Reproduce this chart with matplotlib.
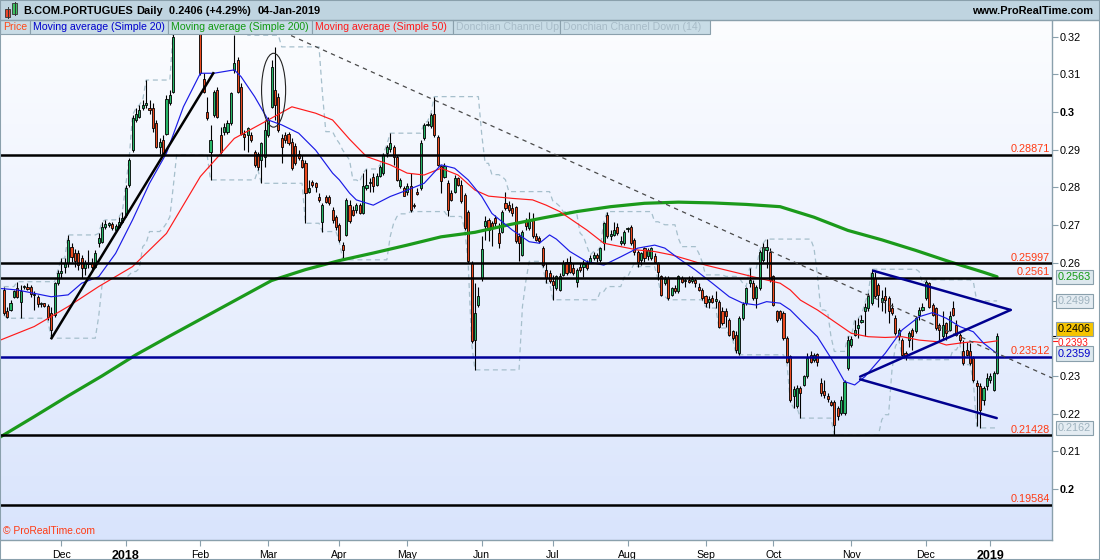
import numpy as np
import pandas as pd
import matplotlib
matplotlib.use("Agg")
import matplotlib.pyplot as plt
from matplotlib.patches import Rectangle, Ellipse
from matplotlib import transforms

plt.rcParams['font.family'] = ['Liberation Sans', 'DejaVu Sans']

#Euronext Lisbon closing days inside the window
holidays = ['2017-12-25', '2017-12-26', '2018-01-01', '2018-03-30', '2018-04-02',
            '2018-05-01', '2018-12-25', '2018-12-26', '2019-01-01']
dates = pd.bdate_range('2017-11-08', '2019-01-04', freq='C', holidays=holidays)

#daily candles (10 bars per row)
opens = [
    .2528, .2471, .2475, .2509, .2532, .2497, .2535, .2537, .2537, .2515,
    .2510, .2491, .2493, .2486, .2466, .2462, .2546, .2572, .2590, .2599,
    .2643, .2625, .2625, .2612, .2585, .2597, .2600, .2590, .2652, .2656,
    .2694, .2700, .2703, .2687, .2696, .2709, .2727, .2806, .2899, .2979,
    .2988, .3010, .3019, .3012, .3010, .2970, .2908, .2926, .2943, .3023,
    .3054, .3225, .3270, .3300, .3280, .3250, .3290, .3260, .3235, .3089,
    .3001, .2895, .2992, .3058, .2939, .2948, .2948, .2970, .3111, .3138,
    .3067, .2943, .2939, .2939, .2895, .2890, .2873, .2882, .2939, .3014,
    .3058, .3041, .2930, .2939, .2943, .2921, .2910, .2890, .2873, .2864,
    .2789, .2815, .2811, .2775, .2709, .2775, .2775, .2740, .2722, .2700,
    .2647, .2674, .2754, .2741, .2739, .2754, .2732, .2798, .2811, .2829,
    .2807, .2831, .2838, .2891, .2902, .2907, .2882, .2803, .2798, .2789,
    .2803, .2754, .2789, .2798, .2931, .2966, .2962, .2995, .2935, .2856,
    .2829, .2811, .2785, .2789, .2825, .2807, .2781, .2736, .2599, .2396,
    .2489, .2560, .2697, .2714, .2705, .2719, .2679, .2683, .2758, .2754,
    .2745, .2748, .2670, .2621, .2710, .2692, .2714, .2670, .2666, .2639,
    .2582, .2573, .2551, .2533, .2528, .2568, .2603, .2603, .2586, .2550,
    .2588, .2588, .2599, .2603, .2612, .2621, .2608, .2652, .2727, .2670,
    .2674, .2696, .2652, .2652, .2689, .2696, .2661, .2630, .2608, .2639,
    .2617, .2612, .2617, .2599, .2564, .2546, .2559, .2515, .2533, .2524,
    .2559, .2553, .2555, .2553, .2555, .2537, .2528, .2511, .2497, .2506,
    .2500, .2497, .2471, .2471, .2449, .2418, .2409, .2360, .2453, .2493,
    .2546, .2546, .2506, .2533, .2608, .2634, .2630, .2564, .2471, .2471,
    .2466, .2400, .2352, .2246, .2219, .2268, .2276, .2299, .2356, .2343,
    .2359, .2281, .2259, .2247, .2232, .2232, .2215, .2201, .2201, .2321,
    .2383, .2409, .2427, .2444, .2471, .2480, .2493, .2559, .2542, .2497,
    .2511, .2506, .2480, .2453, .2405, .2396, .2360, .2396, .2422, .2418,
    .2462, .2475, .2506, .2546, .2489, .2480, .2436, .2405, .2440, .2422,
    .2480, .2436, .2409, .2365, .2369, .2365, .2347, .2281, .2272, .2237,
    .2272, .2290, .2263, .2307]
highs = [
    .2537, .2484, .2501, .2528, .2550, .2541, .2541, .2546, .2541, .2524,
    .2515, .2497, .2494, .2491, .2484, .2550, .2581, .2612, .2612, .2674,
    .2652, .2638, .2634, .2621, .2608, .2634, .2612, .2634, .2678, .2709,
    .2714, .2709, .2709, .2703, .2722, .2736, .2806, .2877, .2992, .3010,
    .3019, .3032, .3085, .3032, .3023, .2979, .2930, .2939, .3045, .3058,
    .3217, .3290, .3330, .3350, .3320, .3300, .3320, .3290, .3262, .3103,
    .3041, .2966, .3058, .3067, .2961, .2970, .2979, .3054, .3204, .3147,
    .3076, .2952, .2961, .2948, .2899, .2895, .2921, .2979, .2988, .3138,
    .3173, .3050, .2943, .2948, .2948, .2930, .2917, .2899, .2886, .2873,
    .2820, .2820, .2815, .2784, .2758, .2780, .2780, .2749, .2727, .2705,
    .2656, .2771, .2767, .2750, .2758, .2758, .2838, .2849, .2825, .2838,
    .2838, .2860, .2891, .2913, .2944, .2913, .2887, .2825, .2803, .2811,
    .2838, .2758, .2798, .2926, .2971, .2975, .2997, .3041, .2940, .2860,
    .2864, .2820, .2794, .2834, .2829, .2820, .2785, .2741, .2604, .2546,
    .2537, .2670, .2723, .2719, .2710, .2728, .2705, .2741, .2789, .2763,
    .2758, .2750, .2679, .2688, .2719, .2736, .2732, .2679, .2670, .2644,
    .2599, .2582, .2568, .2568, .2572, .2608, .2612, .2617, .2599, .2586,
    .2599, .2608, .2608, .2621, .2630, .2626, .2643, .2709, .2736, .2687,
    .2709, .2705, .2670, .2687, .2696, .2701, .2665, .2634, .2630, .2643,
    .2639, .2643, .2626, .2603, .2568, .2564, .2564, .2537, .2542, .2568,
    .2564, .2559, .2564, .2564, .2559, .2546, .2533, .2515, .2511, .2515,
    .2524, .2502, .2484, .2480, .2453, .2422, .2418, .2458, .2497, .2537,
    .2586, .2555, .2542, .2634, .2652, .2663, .2639, .2568, .2475, .2475,
    .2471, .2405, .2356, .2272, .2276, .2272, .2303, .2360, .2365, .2360,
    .2362, .2294, .2290, .2254, .2237, .2237, .2219, .2246, .2290, .2405,
    .2405, .2449, .2453, .2462, .2493, .2520, .2583, .2577, .2546, .2528,
    .2537, .2511, .2493, .2462, .2427, .2400, .2365, .2418, .2427, .2458,
    .2484, .2493, .2555, .2550, .2493, .2484, .2440, .2471, .2444, .2471,
    .2499, .2449, .2413, .2396, .2391, .2387, .2352, .2290, .2281, .2272,
    .2307, .2307, .2312, .2415]
lows = [
    .2462, .2453, .2471, .2506, .2506, .2453, .2530, .2528, .2510, .2475,
    .2484, .2484, .2482, .2448, .2400, .2457, .2541, .2559, .2572, .2590,
    .2603, .2590, .2581, .2559, .2568, .2585, .2577, .2585, .2643, .2652,
    .2689, .2694, .2687, .2683, .2692, .2705, .2722, .2802, .2895, .2974,
    .2983, .3005, .3012, .2996, .2948, .2904, .2890, .2886, .2939, .3019,
    .3050, .3220, .3240, .3260, .3235, .3230, .3250, .3225, .3098, .3050,
    .2979, .2820, .2988, .2983, .2890, .2939, .2943, .2966, .3103, .3050,
    .2939, .2899, .2895, .2921, .2855, .2846, .2811, .2855, .2935, .3010,
    .2979, .2948, .2864, .2917, .2912, .2846, .2859, .2873, .2851, .2705,
    .2784, .2802, .2789, .2762, .2683, .2758, .2753, .2705, .2687, .2656,
    .2608, .2670, .2705, .2723, .2732, .2730, .2730, .2794, .2789, .2789,
    .2803, .2827, .2834, .2882, .2895, .2860, .2816, .2798, .2776, .2781,
    .2736, .2745, .2781, .2794, .2926, .2962, .2957, .2935, .2856, .2785,
    .2825, .2723, .2763, .2785, .2803, .2758, .2688, .2599, .2387, .2316,
    .2484, .2551, .2661, .2657, .2644, .2697, .2639, .2679, .2741, .2736,
    .2723, .2652, .2604, .2617, .2688, .2688, .2666, .2657, .2652, .2590,
    .2546, .2546, .2502, .2529, .2524, .2564, .2568, .2572, .2568, .2537,
    .2577, .2562, .2581, .2599, .2608, .2603, .2603, .2634, .2665, .2661,
    .2670, .2674, .2648, .2648, .2683, .2648, .2621, .2590, .2595, .2603,
    .2608, .2608, .2599, .2555, .2511, .2542, .2502, .2511, .2519, .2519,
    .2546, .2537, .2546, .2546, .2537, .2524, .2502, .2484, .2480, .2493,
    .2480, .2427, .2435, .2431, .2405, .2396, .2360, .2356, .2449, .2489,
    .2537, .2502, .2480, .2528, .2603, .2586, .2550, .2486, .2444, .2449,
    .2396, .2334, .2232, .2215, .2215, .2188, .2272, .2294, .2334, .2338,
    .2325, .2246, .2241, .2232, .2219, .2143, .2184, .2197, .2197, .2316,
    .2378, .2405, .2400, .2440, .2405, .2471, .2489, .2506, .2484, .2471,
    .2466, .2440, .2462, .2409, .2396, .2352, .2343, .2378, .2369, .2413,
    .2449, .2471, .2502, .2480, .2458, .2422, .2396, .2396, .2396, .2418,
    .2458, .2405, .2387, .2330, .2352, .2330, .2285, .2166, .2162, .2223,
    .2263, .2281, .2259, .2306]
closes = [
    .2466, .2457, .2494, .2524, .2510, .2524, .2539, .2531, .2517, .2517,
    .2491, .2493, .2486, .2457, .2422, .2546, .2572, .2579, .2600, .2661,
    .2615, .2606, .2594, .2585, .2599, .2600, .2590, .2625, .2665, .2696,
    .2703, .2705, .2692, .2698, .2709, .2718, .2798, .2873, .2983, .2995,
    .3005, .3019, .3025, .3005, .2957, .2908, .2921, .2890, .3036, .3045,
    .3200, .3270, .3300, .3280, .3250, .3290, .3260, .3240, .3103, .3054,
    .2983, .2926, .3054, .2988, .2895, .2961, .2970, .3050, .3129, .3054,
    .2943, .2935, .2957, .2926, .2859, .2855, .2917, .2952, .2979, .3120,
    .3019, .2952, .2908, .2926, .2917, .2851, .2864, .2877, .2855, .2784,
    .2798, .2806, .2802, .2767, .2753, .2762, .2758, .2714, .2696, .2661,
    .2634, .2767, .2710, .2727, .2754, .2732, .2803, .2807, .2815, .2803,
    .2831, .2854, .2887, .2907, .2918, .2882, .2820, .2819, .2778, .2803,
    .2741, .2750, .2783, .2918, .2966, .2969, .2993, .2940, .2860, .2816,
    .2857, .2741, .2767, .2825, .2807, .2763, .2692, .2604, .2392, .2467,
    .2511, .2636, .2710, .2688, .2692, .2705, .2652, .2736, .2745, .2741,
    .2732, .2657, .2652, .2683, .2697, .2710, .2670, .2661, .2657, .2595,
    .2560, .2551, .2542, .2564, .2564, .2599, .2572, .2577, .2572, .2581,
    .2580, .2597, .2586, .2612, .2621, .2612, .2639, .2705, .2670, .2677,
    .2686, .2679, .2659, .2683, .2692, .2652, .2630, .2603, .2626, .2612,
    .2634, .2639, .2603, .2577, .2515, .2557, .2506, .2533, .2524, .2565,
    .2550, .2555, .2550, .2558, .2546, .2528, .2506, .2493, .2504, .2497,
    .2504, .2431, .2440, .2458, .2409, .2400, .2369, .2453, .2491, .2533,
    .2555, .2506, .2537, .2630, .2643, .2641, .2555, .2489, .2449, .2453,
    .2400, .2338, .2237, .2266, .2268, .2254, .2299, .2347, .2338, .2356,
    .2338, .2254, .2250, .2238, .2223, .2170, .2193, .2237, .2285, .2396,
    .2398, .2422, .2436, .2449, .2484, .2513, .2573, .2511, .2515, .2506,
    .2502, .2471, .2466, .2413, .2422, .2356, .2352, .2413, .2405, .2453,
    .2475, .2482, .2548, .2484, .2462, .2427, .2422, .2436, .2413, .2458,
    .2462, .2409, .2396, .2334, .2356, .2334, .2290, .2272, .2210, .2268,
    .2294, .2299, .2307, .2406]

#moving averages: bar number and value
ma20_day = [-1, 4, 9, 14, 19, 23, 28, 33, 38, 43, 48, 53, 58, 62, 68, 70, 74, 78, 82, 87,
            92, 97, 99, 102, 104, 109, 114, 119, 124, 129, 133, 137, 141, 144, 150, 155,
            158, 161, 163, 167, 172, 177, 182, 187, 192, 195, 199, 204, 209, 214, 218,
            222, 225, 229, 232, 235, 240, 245, 248, 251, 254, 260, 265, 270, 274, 278,
            282, 286, 289, 293]
ma20_val = [.2532, .2528, .2519, .2510, .2515, .2546, .2563, .2625, .2714, .2811, .2891,
            .3014, .3103, .3103, .3112, .3094, .3041, .2979, .2966, .2944, .2899, .2838,
            .2820, .2785, .2767, .2753, .2776, .2793, .2811, .2860, .2851, .2820, .2776,
            .2731, .2687, .2656, .2652, .2674, .2663, .2630, .2603, .2594, .2616, .2639,
            .2647, .2639, .2612, .2581, .2546, .2510, .2493, .2488, .2497, .2493, .2475,
            .2448, .2404, .2333, .2285, .2276, .2298, .2360, .2422, .2457, .2468, .2453,
            .2431, .2417, .2387, .2359]
ma50_day = [-1, 9, 19, 28, 38, 48, 58, 68, 78, 85, 92, 97, 102, 107, 114, 119, 124, 129,
            134, 139, 143, 150, 156, 160, 164, 172, 177, 182, 187, 192, 197, 202, 207,
            212, 217, 221, 229, 232, 235, 240, 245, 250, 255, 260, 265, 270, 275, 278,
            282, 286, 289, 293]
ma50_val = [.2395, .2431, .2484, .2537, .2590, .2678, .2829, .2930, .2979, .3014, .2997,
            .2979, .2928, .2882, .2860, .2838, .2833, .2851, .2833, .2793, .2777, .2771,
            .2767, .2753, .2736, .2687, .2652, .2643, .2634, .2630, .2621, .2608, .2594,
            .2583, .2572, .2563, .2546, .2528, .2501, .2475, .2444, .2413, .2404, .2402,
            .2404, .2395, .2391, .2382, .2387, .2391, .2388, .2393]
ma200_day = [-1, 9, 19, 29, 39, 49, 59, 69, 79, 89, 99, 109, 119, 129, 139, 149, 159,
             169, 179, 189, 199, 209, 219, 229, 239, 249, 259, 269, 279, 289, 293]
ma200_val = [.2138, .2192, .2247, .2300, .2356, .2406, .2455, .2504, .2553, .2582, .2606,
             .2626, .2647, .2669, .2681, .2701, .2719, .2736, .2749, .2758, .2761, .2759,
             .2755, .2749, .2721, .2686, .2661, .2633, .2603, .2575, .2563]

#horizontal levels drawn on the chart
levels = [0.28871, 0.25997, 0.2561, 0.21428, 0.19584]
level_navy = 0.23512

#hand drawn objects, anchors as (bar number, price)
trend_dash = [(82.4, 0.32125), (309.2, 0.22945)]
trend_up = [(14.1, 0.2400), (61.8, 0.3103)]
ellipse_c = (79.6, 0.3058)
ellipse_wh = (7.1, 0.0196)
pennant = [[(256.5, 0.2579), (297.0, 0.2475)],
           [(252.6, 0.2298), (297.0, 0.2475)],
           [(252.6, 0.2291), (292.9, 0.2188)]]

GREEN = '#26b566'
RED = '#ec4a1e'
DON = '#a6bfcc'
EDGE = '#8aa0ac'

W, H = 1100, 560
fig = plt.figure(figsize=(W / 100, H / 100), dpi=100)


def fx(px):
    return px / W


def fy(py):
    return 1 - py / H


ax = fig.add_axes([0, fy(540), fx(1052), 520 / H])
xlo, xhi = -1.1, 309.2
ylo, yhi = 0.18646, 0.32443

#soft vertical gradient behind the price panel
grad = np.linspace(0, 1, 200)[:, None, None]
top = np.array([0.988, 0.992, 1.0])
bot = np.array([0.85, 0.894, 0.99])
ax.imshow(top + (bot - top) * grad, extent=[xlo, xhi, ylo, yhi], aspect='auto', zorder=0)

x = np.arange(len(dates))
o, h, l, c = map(np.array, (opens, highs, lows, closes))

#donchian channel (14)
don_up = pd.Series(h).rolling(14, min_periods=1).max()
don_dn = pd.Series(l).rolling(14, min_periods=1).min()
ax.plot(x, don_up, color=DON, lw=0.9, ls=(0, (4, 3)), zorder=1)
ax.plot(x, don_dn, color=DON, lw=0.9, ls=(0, (4, 3)), zorder=1)

#candles
up = c >= o
body_lo = np.minimum(o, c)
body_h = np.maximum(np.abs(c - o), 0.00012)
ax.vlines(x, l, h, color='black', lw=0.8, zorder=2)
ax.bar(x[up], body_h[up], bottom=body_lo[up], width=0.62, color=GREEN,
       edgecolor='black', linewidth=0.6, zorder=3)
ax.bar(x[~up], body_h[~up], bottom=body_lo[~up], width=0.62, color=RED,
       edgecolor='black', linewidth=0.6, zorder=3)

#moving averages
ax.plot(ma200_day, ma200_val, color='#1b9a1b', lw=2.3, zorder=4, solid_capstyle='round')
ax.plot(ma50_day, ma50_val, color='#ff1a1a', lw=0.85, zorder=4)
ax.plot(ma20_day, ma20_val, color='#1a1ae6', lw=0.85, zorder=4)

#levels and their labels
for lv in levels:
    ax.axhline(lv, color='black', lw=1.8, zorder=5)
ax.axhline(level_navy, color='#000099', lw=1.8, zorder=5)
ytr = ax.get_yaxis_transform()
for lv in levels + [level_navy]:
    ax.text(0.998, lv + 0.0006, f'{lv:g}', transform=ytr, ha='right', va='baseline',
            color='#ff3b14', fontsize=7.8, zorder=6)

#drawings
(x0, y0), (x1, y1) = trend_dash
ax.plot([x0, x1], [y0, y1], color='#4a4a4a', lw=0.9, ls=(0, (3.5, 3.5)), zorder=5)
(x0, y0), (x1, y1) = trend_up
ax.plot([x0, x1], [y0, y1], color='black', lw=1.8, zorder=5)
ax.add_patch(Ellipse(ellipse_c, ellipse_wh[0], ellipse_wh[1], fill=False,
                     edgecolor='#222222', lw=0.8, zorder=5))
for seg in pennant:
    (x0, y0), (x1, y1) = seg
    ax.plot([x0, x1], [y0, y1], color='#00008f', lw=1.8, zorder=5, solid_capstyle='round')

ax.set_xlim(xlo, xhi)
ax.set_ylim(ylo, yhi)

#right price scale (0.24 and 0.25 sit under the value tags, so no text there)
ax.yaxis.tick_right()
yt = np.round(np.arange(0.20, 0.3201, 0.01), 2)
ax.set_yticks(yt)
ax.set_yticklabels(['' if v in (0.24, 0.25) else f'{v:g}' for v in yt])
for lab, v in zip(ax.get_yticklabels(), yt):
    if abs(v * 10 - round(v * 10)) < 1e-9:
        lab.set_fontweight('bold')
ax.tick_params(axis='y', direction='out', length=4, width=0.8, color=EDGE,
               labelsize=7.8, pad=1.5)

#month ticks
mon = np.asarray(dates.month)
first = np.r_[False, mon[1:] != mon[:-1]]
tick_pos = x[first]
tick_lab = [str(d.year) if d.month == 1 else d.strftime('%b') for d in dates[first]]
ax.set_xticks(tick_pos)
ax.set_xticklabels(tick_lab)
ax.tick_params(axis='x', direction='out', length=4, width=0.8, color=EDGE,
               labelsize=7.6, pad=3)
for lab in ax.get_xticklabels():
    if lab.get_text().isdigit():
        lab.set_fontweight('bold')
        lab.set_fontsize(9)

for side in ['top', 'left']:
    ax.spines[side].set_visible(False)
for side in ['right', 'bottom']:
    ax.spines[side].set_color(EDGE)
    ax.spines[side].set_linewidth(1.0)

#last value tags on the price scale
tag_x = 1 + 6 / 1052
red_tr = transforms.offset_copy(ytr, fig=fig, y=-1.6, units='points')
ax.text(tag_x, ma50_val[-1], f'{ma50_val[-1]:.4f}', transform=red_tr, ha='left', va='center',
        color='#ff1a1a', fontsize=7.2, zorder=7)
ax.plot([1.0, 1.005], [ma50_val[-1]] * 2, transform=ytr, color='#ff1a1a', lw=0.8, clip_on=False)
ax.plot([1.0, 1.005], [closes[-1]] * 2, transform=ytr, color='black', lw=0.8, clip_on=False)
tags = [(ma200_val[-1], '#119911', '#dde8ee', 0),
        (don_up.iloc[-1], '#9fb3bf', '#e4ecf2', 0),
        (ma20_val[-1], '#0000cc', '#dde8ee', 0),
        (don_dn.iloc[-1], '#9fb3bf', '#e4ecf2', 0),
        (closes[-1], 'black', '#f6c400', 4.8)]
for val, tc, fc, dy in tags:
    tr = transforms.offset_copy(ytr, fig=fig, y=dy, units='points')
    ax.text(tag_x, val, f'{val:.4f}', transform=tr, ha='left', va='center', color=tc,
            fontsize=7.8, zorder=8,
            bbox=dict(boxstyle='square,pad=0.2', fc=fc, ec=EDGE, lw=0.8))

ax.text(fx(3) / fx(1052), 0.008, '\u00a9 ProRealTime.com', transform=ax.transAxes,
        ha='left', va='bottom', color='#ff3b14', fontsize=7.4, zorder=7)

#header bar
fig.add_artist(Rectangle((0, fy(20)), 1, 20 / H, transform=fig.transFigure,
                         fc='#bfd4e0', ec='none', zorder=1))
fig.add_artist(plt.Line2D([0, 1], [fy(20), fy(20)], transform=fig.transFigure,
                          color=EDGE, lw=1))
#small candle icon
fig.add_artist(plt.Line2D([fx(7.5)] * 2, [fy(7), fy(18)], transform=fig.transFigure, color='#333', lw=0.7))
fig.add_artist(Rectangle((fx(5), fy(16.5)), fx(5), 7.5 / H, transform=fig.transFigure,
                         fc='#e8452a', ec='#333', lw=0.6))
fig.add_artist(plt.Line2D([fx(14.5)] * 2, [fy(2), fy(15)], transform=fig.transFigure, color='#333', lw=0.7))
fig.add_artist(Rectangle((fx(12), fy(14)), fx(5), 10.5 / H, transform=fig.transFigure,
                         fc='#3cc060', ec='#333', lw=0.6))

head = [('B.COM.PORTUGUES', 23), ('Daily', 136), ('0.2406 (+4.29%)', 169), ('04-Jan-2019', 258)]
for txt, px in head:
    fig.text(fx(px), fy(10.5), txt, fontsize=7.9, fontweight='bold', va='center', ha='left')
fig.text(fx(1093), fy(10.5), 'www.ProRealTime.com', fontsize=7.9, fontweight='bold',
         va='center', ha='right')

#indicator name boxes
legend_items = [('Price', '#ff4a1a', 0, 30),
                ('Moving average (Simple 20)', '#0000cc', 30, 168),
                ('Moving average (Simple 200)', '#119911', 168, 312),
                ('Moving average (Simple 50)', '#ff1a1a', 312, 453),
                ('Donchian Channel Up', '#a8bcc8', 453, 560),
                ('Donchian Channel Down (14)', '#a8bcc8', 560, 710)]
for txt, col, a, b in legend_items:
    fig.add_artist(Rectangle((fx(a), fy(34)), fx(b - a), 14 / H, transform=fig.transFigure,
                             fc='#c8dce6', ec=EDGE, lw=0.8))
    fig.text(fx(a + 3), fy(27), txt, color=col, fontsize=7.6, va='center', ha='left')

#outer frame
fig.add_artist(Rectangle((0, 0), 1, 1, transform=fig.transFigure, fill=False, ec=EDGE, lw=1.5))

fig.savefig('out.png', dpi=100)
